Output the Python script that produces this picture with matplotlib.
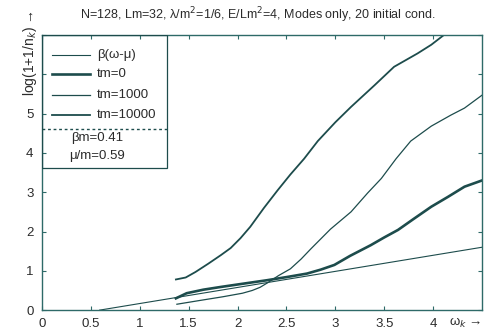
import matplotlib.pyplot as plt
from matplotlib.patches import Rectangle
from matplotlib.lines import Line2D

# data
beta_x = [0.59, 4.5]
beta_y = [0.0, 1.60]

tm0_x = [1.37, 1.48, 1.65, 1.83, 2.05, 2.3, 2.5, 2.71, 2.85, 2.99, 3.15, 3.36, 3.5, 3.64, 3.8, 3.98, 4.15, 4.32, 4.5]
tm0_y = [0.30, 0.43, 0.52, 0.59, 0.67, 0.76, 0.84, 0.93, 1.03, 1.15, 1.38, 1.65, 1.85, 2.04, 2.32, 2.63, 2.88, 3.14, 3.30]

tm1000_x = [1.38, 1.6, 1.85, 2.05, 2.15, 2.23, 2.31, 2.42, 2.54, 2.65, 2.75, 2.95, 3.16, 3.33, 3.47, 3.62, 3.77, 3.98, 4.18, 4.32, 4.5]
tm1000_y = [0.15, 0.24, 0.34, 0.43, 0.50, 0.58, 0.70, 0.88, 1.05, 1.30, 1.56, 2.06, 2.5, 2.98, 3.35, 3.85, 4.3, 4.68, 4.96, 5.14, 5.47]

tm10000_x = [1.37, 1.47, 1.57, 1.7, 1.83, 1.93, 2.03, 2.13, 2.27, 2.41, 2.54, 2.68, 2.82, 3.0, 3.16, 3.4, 3.6, 3.84, 3.98, 4.11]
tm10000_y = [0.78, 0.83, 0.97, 1.18, 1.40, 1.58, 1.83, 2.12, 2.6, 3.05, 3.45, 3.85, 4.3, 4.78, 5.17, 5.72, 6.19, 6.53, 6.75, 7.0]

line_col = '#1d4c4c'
frame_col = '#2e6a68'
text_col = '#2b2b2b'


def main():
    plt.rcParams['font.family'] = ['Liberation Sans', 'DejaVu Sans']
    fig = plt.figure(figsize=(4.87, 3.36), dpi=100)
    ax = fig.add_axes([0.086, 0.077, 0.904, 0.819])

    # curves
    ax.plot(beta_x, beta_y, color=line_col, lw=0.8)
    ax.plot(tm0_x, tm0_y, color=line_col, lw=1.9)
    ax.plot(tm1000_x, tm1000_y, color=line_col, lw=0.9)
    ax.plot(tm10000_x, tm10000_y, color=line_col, lw=1.3)

    ax.set_xlim(0, 4.5)
    ax.set_ylim(0, 7)
    ax.set_xticks([0, 0.5, 1, 1.5, 2, 2.5, 3, 3.5, 4])
    ax.set_xticklabels(['0', '0.5', '1', '1.5', '2', '2.5', '3', '3.5', '4'])
    ax.set_yticks(range(0, 8))
    ax.set_yticklabels(['0', '1', '2', '3', '4', '5', '', ''])
    ax.tick_params(direction='in', length=3, width=0.8, color=frame_col,
                   labelsize=9.5, labelcolor=text_col, top=True, right=True, pad=6)
    for s in ax.spines.values():
        s.set_color(frame_col)
        s.set_linewidth(1.0)

    # legend box drawn by hand
    bw = 0.284
    bb = 0.516
    ax.add_patch(Rectangle((0, bb), bw, 1 - bb, transform=ax.transAxes,
                           fill=False, ec=line_col, lw=0.9, zorder=5))
    ax.add_line(Line2D([0, bw], [0.658, 0.658], transform=ax.transAxes,
                       color=line_col, lw=1.0, ls=(0, (2, 2)), zorder=5))
    rows = [('β(ω-μ)', 0.8), ('tm=0', 1.9), ('tm=1000', 0.9), ('tm=10000', 1.3)]
    row_y = [0.927, 0.858, 0.782, 0.709]
    for (lab, lw), y in zip(rows, row_y):
        ax.add_line(Line2D([0.023, 0.11], [y, y], transform=ax.transAxes,
                           color=line_col, lw=lw, zorder=5))
        ax.text(0.125, y, lab, transform=ax.transAxes, fontsize=9.5,
                color=text_col, va='center', ha='left')
    ax.text(0.125, 0.625, 'βm=0.41', transform=ax.transAxes, fontsize=9.5,
            color=text_col, va='center', ha='center')
    ax.text(0.125, 0.56, 'μ/m=0.59', transform=ax.transAxes, fontsize=9.5,
            color=text_col, va='center', ha='center')

    # title and axis labels
    fig.text(0.53, 0.955, 'N=128, Lm=32, λ/m$^2$=1/6, E/Lm$^2$=4, Modes only, 20 initial cond.',
             fontsize=9, color=text_col, ha='center', va='center')
    fig.text(0.062, 0.97, 'log(1+1/n$_k$) →', rotation=90, fontsize=10,
             color=text_col, ha='center', va='top')
    fig.text(0.955, 0.04, 'ω$_k$ →', fontsize=9.5, color=text_col,
             ha='center', va='center')

    fig.savefig('out.png', dpi=100)
    plt.close()


if __name__ == "__main__":
    main()
